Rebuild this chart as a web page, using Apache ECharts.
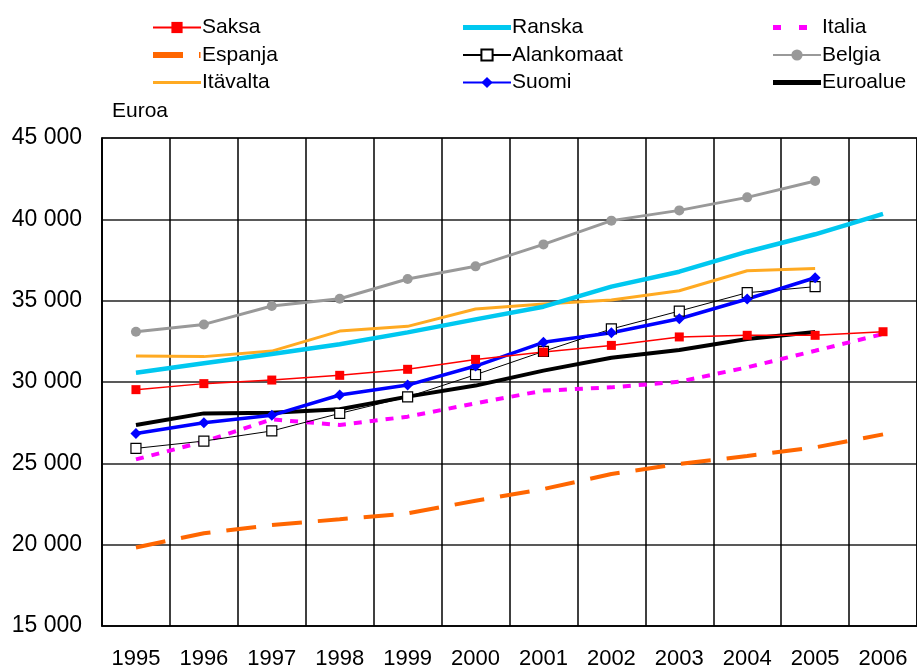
<!DOCTYPE html>
<html>
<head>
<meta charset="utf-8">
<script src="https://cdn.jsdelivr.net/npm/echarts@6/dist/echarts.min.js"></script>
<style>
  html, body { margin: 0; padding: 0; background: #fff; }
  #chart { width: 917px; height: 670px; }
</style>
</head>
<body>
<div id="chart"></div>
<script>
// vuodet
var years = ['1995', '1996', '1997', '1998', '1999', '2000', '2001', '2002', '2003', '2004', '2005', '2006'];

// euroa / asukas, luettu kuvasta
var saksa      = [29530, 29900, 30120, 30410, 30780, 31390, 31840, 32250, 32770, 32870, 32870, 33090];
var ranska     = [30570, 31150, 31720, 32320, 33050, 33850, 34630, 35860, 36780, 38010, 39080, 40330];
var italia     = [25240, 26330, 27700, 27360, 27870, 28690, 29470, 29670, 30020, 30900, 31920, 32950];
var espanja    = [19830, 20700, 21210, 21560, 21920, 22700, 23420, 24340, 24960, 25450, 25980, 26780];
var alankomaat = [25920, 26370, 26990, 28070, 29080, 30450, 31880, 33260, 34360, 35490, 35860, null];
var belgia     = [33090, 33540, 34670, 35120, 36330, 37110, 38460, 39920, 40550, 41350, 42360, null];
var itavalta   = [31600, 31560, 31900, 33130, 33420, 34490, 34790, 35040, 35610, 36840, 36970, null];
var suomi      = [26840, 27500, 27950, 29200, 29810, 30980, 32440, 33030, 33890, 35100, 36410, null];
var euroalue   = [27360, 28070, 28110, 28320, 29100, 29780, 30700, 31490, 31970, 32640, 33070, null];

var chart = echarts.init(document.getElementById('chart'), null, { renderer: 'canvas' });

var font = 'Liberation Sans, Arial, sans-serif';

// legendan ikonit viivoille ilman merkkiä (laatikko 48x14)
var icons = {
    Ranska: 'path://M0,0M0,4.5h48v5h-48zM48,14',
    Itävalta: 'path://M0,0M0,5.5h48v3h-48zM48,14',
    Euroalue: 'path://M0,0M0,4.5h48v5h-48zM48,14',
    Espanja: 'path://M0,0M0,4h30v6h-30zM46,4h1.5v6h-1.5zM48,14',
    Italia: 'path://M0,0M0,4.5h8v5h-8zM26,4.5h8v5h-8zM48,14'
};

function fmt(v) {
    var s = String(v);
    return s.length > 3 ? s.slice(0, s.length - 3) + ' ' + s.slice(-3) : s;
}

function legendCol(left, names) {
    return {
        left: left,
        top: 12,
        orient: 'vertical',
        itemWidth: 48,
        itemHeight: 14,
        itemGap: 6.5,
        selectedMode: false,
        textStyle: { fontFamily: font, fontSize: 21, color: '#000', padding: [0, 0, 0, -4] },
        data: names.map(function(n) {
            return icons[n] ? { name: n, icon: icons[n], itemStyle: { borderWidth: 0 } } : { name: n };
        })
    };
}

function line(name, data, color, width, opts) {
    var s = {
        name: name,
        type: 'line',
        data: data,
        symbol: 'none',
        connectNulls: false,
        animation: false,
        lineStyle: { color: color, width: width, type: 'solid' },
        itemStyle: { color: color }
    };
    return Object.assign(s, opts || {});
}

var option = {
    backgroundColor: '#fff',
    animation: false,
    legend: [
        legendCol(147, ['Saksa', 'Espanja', 'Itävalta']),
        legendCol(457, ['Ranska', 'Alankomaat', 'Suomi']),
        legendCol(767, ['Italia', 'Belgia', 'Euroalue'])
    ],
    grid: {
        left: 102,
        top: 138,
        width: 820,
        height: 488,
        show: true,
        borderColor: '#000',
        borderWidth: 1.5
    },
    xAxis: {
        type: 'category',
        data: years,
        boundaryGap: true,
        axisLine: { show: true, lineStyle: { color: '#000', width: 1.5 } },
        axisTick: { show: false },
        splitLine: { show: true, lineStyle: { color: '#000', width: 1.5 } },
        axisLabel: { fontFamily: font, fontSize: 22, color: '#000', margin: 22 }
    },
    yAxis: {
        type: 'value',
        min: 15000,
        max: 45000,
        interval: 5000,
        name: 'Euroa',
        nameLocation: 'end',
        nameGap: 16,
        nameTextStyle: { fontFamily: font, fontSize: 21, color: '#000', align: 'left', padding: [0, 0, 0, 10] },
        axisLine: { show: true, lineStyle: { color: '#000', width: 1.5 } },
        axisTick: { show: false },
        splitLine: { show: true, lineStyle: { color: '#222', width: 1.5 } },
        axisLabel: {
            fontFamily: font, fontSize: 23, color: '#000', margin: 20,
            formatter: fmt
        }
    },
    series: [
        line('Espanja', espanja, '#ff6600', 4, { lineStyle: { color: '#ff6600', width: 4, type: [30, 16] } }),
        line('Italia', italia, '#ff00ff', 4, { lineStyle: { color: '#ff00ff', width: 4, type: [8, 8] } }),
        line('Itävalta', itavalta, '#ffaa22', 3),
        line('Ranska', ranska, '#00c8f0', 4.5),
        line('Belgia', belgia, '#999999', 3, {
            symbol: 'circle', symbolSize: 10, showSymbol: true
        }),
        line('Euroalue', euroalue, '#000000', 4),
        line('Alankomaat', alankomaat, '#000000', 1, {
            symbol: 'rect', symbolSize: 10, showSymbol: true,
            itemStyle: { color: '#fff', borderColor: '#000', borderWidth: 1.2 }
        }),
        line('Suomi', suomi, '#0000ff', 3.5, {
            symbol: 'diamond', symbolSize: 11, showSymbol: true
        }),
        line('Saksa', saksa, '#ff0000', 1.5, {
            symbol: 'rect', symbolSize: 9, showSymbol: true
        })
    ]
};

chart.setOption(option);
</script>
</body>
</html>
